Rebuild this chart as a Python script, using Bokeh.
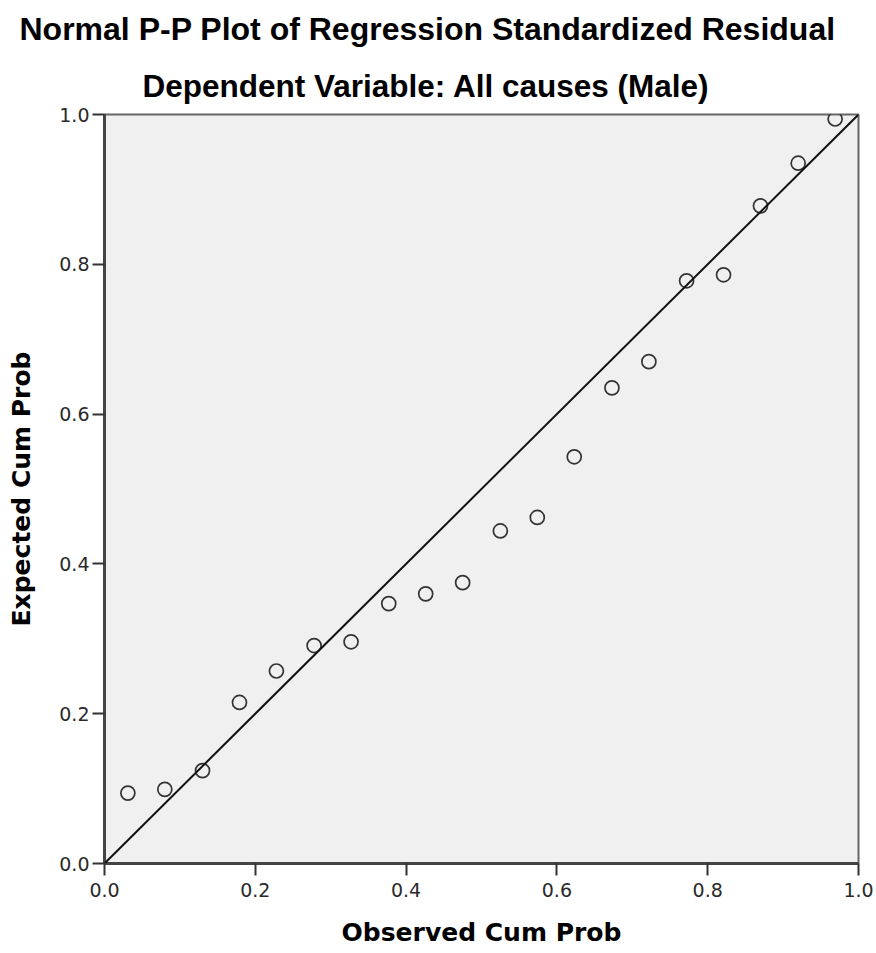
from bokeh.plotting import figure
from bokeh.models import Range1d, FixedTicker, Slope, Title
from bokeh.embed import file_html
from bokeh.resources import INLINE

title_text = "Normal P-P Plot of Regression Standardized Residual"
subtitle_text = "Dependent Variable: All causes (Male)"
x_label = "Observed Cum Prob"
y_label = "Expected Cum Prob"

observed_cum_prob = [0.031, 0.080, 0.130, 0.179, 0.228, 0.278, 0.327, 0.377, 0.426, 0.475,
                     0.525, 0.574, 0.623, 0.673, 0.722, 0.772, 0.821, 0.870, 0.920, 0.969]
expected_cum_prob = [0.094, 0.099, 0.124, 0.215, 0.257, 0.291, 0.296, 0.347, 0.360, 0.375,
                     0.444, 0.462, 0.543, 0.635, 0.670, 0.778, 0.786, 0.878, 0.935, 0.994]

tick_values = [0.0, 0.2, 0.4, 0.6, 0.8, 1.0]
tick_labels = ["0.0", "0.2", "0.4", "0.6", "0.8", "1.0"]

p = figure(width=876, height=953, output_backend="svg", toolbar_location=None,
           x_range=Range1d(0, 1), y_range=Range1d(0, 1),
           min_border_left=104, min_border_right=18, min_border_top=110, min_border_bottom=90)

p.background_fill_color = "#f0f0f0"
p.border_fill_color = "white"
p.outline_line_color = "#666666"
p.outline_line_width = 2
p.xgrid.visible = False
p.ygrid.visible = False

for ax in (p.xaxis[0], p.yaxis[0]):
    ax.ticker = FixedTicker(ticks=tick_values)
    ax.major_label_overrides = {v: s for v, s in zip(tick_values, tick_labels)}
    ax.axis_line_color = "#444444"
    ax.axis_line_width = 3
    ax.major_tick_line_color = "#333333"
    ax.major_tick_line_width = 2
    ax.major_tick_out = 12
    ax.major_tick_in = 0
    ax.minor_tick_line_color = None
    ax.major_label_text_font = "DejaVu Sans"
    ax.major_label_text_font_size = "19px"
    ax.major_label_text_color = "#2a2a2a"
    ax.axis_label_text_font = "DejaVu Sans"
    ax.axis_label_text_font_style = "bold"
    ax.axis_label_text_font_size = "25px"
    ax.axis_label_text_color = "black"

p.xaxis.axis_label = x_label
p.yaxis.axis_label = y_label
p.xaxis.major_label_standoff = 7
p.yaxis.major_label_standoff = 3
p.xaxis.axis_label_standoff = 18
p.yaxis.axis_label_standoff = 20

p.add_layout(Slope(gradient=1, y_intercept=0, line_color="#111111", line_width=2))

p.scatter(observed_cum_prob, expected_cum_prob, size=14, marker="circle",
          fill_color=None, line_color="#333333", line_width=1.7)

p.add_layout(Title(text=subtitle_text, align="left", offset=38, standoff=22,
                   text_font="Liberation Sans", text_font_style="bold",
                   text_font_size="31.5px", text_color="black"), "above")
p.add_layout(Title(text=title_text, align="left", offset=-85, standoff=16,
                   text_font="Liberation Sans", text_font_style="bold",
                   text_font_size="32px", text_color="black"), "above")

open("out.html", "w").write(file_html(p, INLINE))
